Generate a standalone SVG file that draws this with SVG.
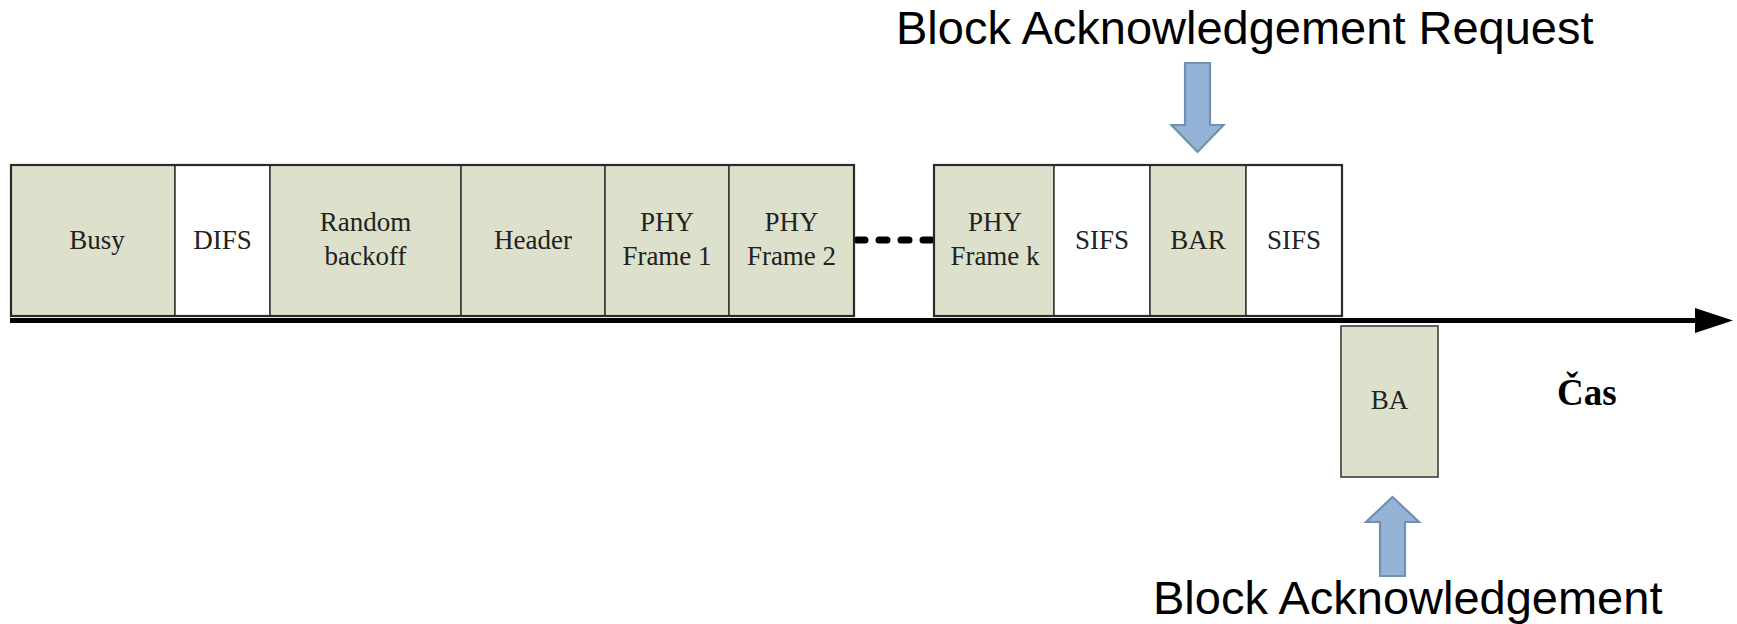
<svg xmlns="http://www.w3.org/2000/svg" width="1737" height="624" viewBox="0 0 1737 624">
  <style>
    .cell { stroke: #333333; stroke-width: 1.5; }
    .busy { fill: #dde1cb; }
    .idle { fill: #ffffff; }
    .frame { fill: none; stroke: #2a2a2a; stroke-width: 2.2; }
    .lbl { font-family: "Liberation Serif", "Times New Roman", serif; font-size: 27px; fill: #222222; text-anchor: middle; }
    .note { font-family: "Liberation Sans", Arial, sans-serif; font-size: 47px; fill: #000000; }
    .time { font-family: "Liberation Serif", "Times New Roman", serif; font-size: 37px; font-weight: bold; fill: #000000; }
    .blk { fill: #95b3d7; stroke: #7191b2; stroke-width: 2.2; stroke-linejoin: miter; }
  </style>
  <defs>
    <marker id="timeHead" markerUnits="userSpaceOnUse" markerWidth="40" markerHeight="26" refX="5" refY="12.5" orient="auto">
      <polygon points="0,0 38,12.5 0,25" fill="#000000"/>
    </marker>
  </defs>

  <rect width="1737" height="624" fill="#ffffff"/>

  <!-- time axis and the gap between frame 2 and frame k -->
  <g id="connectors">
    <line x1="10" y1="320.5" x2="1700" y2="320.5" stroke="#000000" stroke-width="5" marker-end="url(#timeHead)"/>
    <line x1="857" y1="240" x2="931" y2="240" stroke="#000000" stroke-width="7" stroke-linecap="round" stroke-dasharray="8 14"/>
  </g>

  <!-- first burst: busy medium up to PHY frame 2 -->
  <g id="busy">
    <rect class="cell busy" x="11" y="165" width="164" height="151"/>
    <text class="lbl" x="97" y="249">Busy</text>
  </g>
  <g id="difs">
    <rect class="cell idle" x="175" y="165" width="95" height="151"/>
    <text class="lbl" x="222.5" y="249">DIFS</text>
  </g>
  <g id="backoff">
    <rect class="cell busy" x="270" y="165" width="191" height="151"/>
    <text class="lbl" x="365.5" y="231">Random</text>
    <text class="lbl" x="365.5" y="265">backoff</text>
  </g>
  <g id="header">
    <rect class="cell busy" x="461" y="165" width="144" height="151"/>
    <text class="lbl" x="533" y="249">Header</text>
  </g>
  <g id="phy1">
    <rect class="cell busy" x="605" y="165" width="124" height="151"/>
    <text class="lbl" x="667" y="231">PHY</text>
    <text class="lbl" x="667" y="265">Frame 1</text>
  </g>
  <g id="phy2">
    <rect class="cell busy" x="729" y="165" width="125" height="151"/>
    <text class="lbl" x="791.5" y="231">PHY</text>
    <text class="lbl" x="791.5" y="265">Frame 2</text>
  </g>
  <rect class="frame" x="11" y="165" width="843" height="151"/>

  <!-- second burst: last frame, block ack request -->
  <g id="phyk">
    <rect class="cell busy" x="934" y="165" width="120" height="151"/>
    <text class="lbl" x="995" y="231">PHY</text>
    <text class="lbl" x="995" y="265">Frame k</text>
  </g>
  <g id="sifs1">
    <rect class="cell idle" x="1054" y="165" width="96" height="151"/>
    <text class="lbl" x="1102" y="249">SIFS</text>
  </g>
  <g id="bar">
    <rect class="cell busy" x="1150" y="165" width="96" height="151"/>
    <text class="lbl" x="1198" y="249">BAR</text>
  </g>
  <g id="sifs2">
    <rect class="cell idle" x="1246" y="165" width="96" height="151"/>
    <text class="lbl" x="1294" y="249">SIFS</text>
  </g>
  <rect class="frame" x="934" y="165" width="408" height="151"/>

  <!-- response below the axis -->
  <g id="ba">
    <rect class="cell busy" x="1341" y="326" width="97" height="151" stroke-width="2.2"/>
    <text class="lbl" x="1389.5" y="409">BA</text>
  </g>

  <g id="time-label">
    <text class="time" x="1557" y="405">Čas</text>
  </g>

  <!-- call-out arrows -->
  <g id="bar-callout">
    <text class="note" x="896" y="44">Block Acknowledgement Request</text>
    <polygon class="blk" points="1185,63 1210,63 1210,125 1223.5,125 1197.5,152 1171.5,125 1185,125"/>
  </g>
  <g id="ba-callout">
    <polygon class="blk" points="1380,576 1405,576 1405,522 1419,522 1392.5,497 1366,522 1380,522"/>
    <text class="note" x="1153" y="614">Block Acknowledgement</text>
  </g>
</svg>
